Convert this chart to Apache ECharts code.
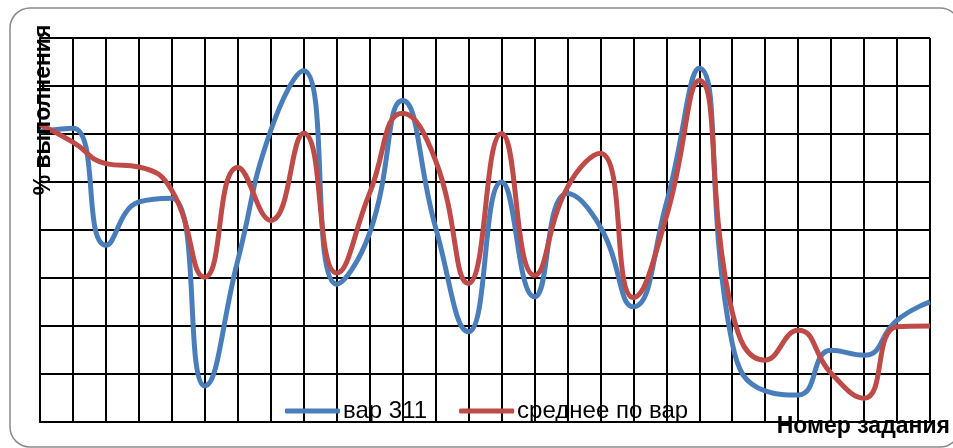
<!DOCTYPE html>
<html>
<head>
<meta charset="utf-8">
<title>% выполнения</title>
<script src="https://cdn.jsdelivr.net/npm/echarts@6/dist/echarts.min.js"></script>
<style>
  html, body { margin: 0; padding: 0; background: #fff; }
  #chart { width: 953px; height: 448px; }
</style>
</head>
<body>
<div id="chart"></div>
<script>
// Task numbers along the x axis
const tasks = ['1','2','3','4','5','6','7','8','9','10','11','12','13','14',
               '15','16','17','18','19','20','21','22','23','24','25','26','27','28'];

// Completion rate, %: variant 311
const var311 = [75.7, 76.5, 46.0, 57.3, 58.3, 9.4, 42.1, 75.9, 91.5, 35.9,
                49.2, 83.7, 50.7, 23.5, 62.5, 32.6, 59.5, 50.8, 30.0, 56.9,
                92.1, 20.5, 8.1, 7.0, 18.7, 17.4, 26.5, 31.3];

// Completion rate, %: average over all variants
const averageAll = [77.5, 72.9, 67.3, 66.4, 60.3, 37.7, 66.3, 52.5, 75.2, 38.8,
                    59.6, 80.4, 68.1, 36.1, 75.1, 38.2, 61.1, 70.0, 32.4, 53.4,
                    88.9, 28.6, 16.1, 23.9, 12.7, 6.2, 24.8, 25.0];

const seriesNames = ['вар 311', 'среднее по вар'];
const yName = '% выполнения';
const xName = 'Номер задания';

const chart = echarts.init(document.getElementById('chart'), null, { renderer: 'canvas' });

const gridLine = { show: true, lineStyle: { color: '#000', width: 2 } };

chart.setOption({
  animation: false,
  backgroundColor: '#fff',
  grid: { left: 40, right: 23, top: 38, bottom: 26, containLabel: false },
  legend: {
    left: 285,
    top: 399,
    padding: 0,
    itemGap: 32,
    itemWidth: 55,
    itemHeight: 5,
    icon: 'roundRect',
    textStyle: { fontFamily: 'Liberation Sans', fontSize: 24, color: '#000', padding: [0, 0, 0, -2] },
    data: seriesNames
  },
  xAxis: {
    type: 'category',
    data: tasks,
    boundaryGap: false,
    axisLine: { show: true, lineStyle: { color: '#000', width: 2 } },
    axisTick: { show: false },
    axisLabel: { show: false, interval: 0 },
    splitLine: Object.assign({ interval: 0 }, gridLine)
  },
  yAxis: {
    type: 'value',
    min: 0,
    max: 100,
    interval: 12.5,
    axisLine: { show: true, lineStyle: { color: '#000', width: 2 } },
    axisTick: { show: false },
    axisLabel: { show: false },
    splitLine: gridLine
  },
  series: [
    {
      name: seriesNames[0],
      type: 'line',
      data: var311,
      smooth: 0.5,
      showSymbol: false,
      lineStyle: { color: '#4A7EBB', width: 5 },
      itemStyle: { color: '#4A7EBB' },
      z: 3
    },
    {
      name: seriesNames[1],
      type: 'line',
      data: averageAll,
      smooth: 0.5,
      showSymbol: false,
      lineStyle: { color: '#BE4B48', width: 5 },
      itemStyle: { color: '#BE4B48' },
      z: 4
    }
  ],
  graphic: [
    {
      type: 'rect',
      z: 0,
      silent: true,
      shape: { x: 10, y: 8, width: 950, height: 439, r: 20 },
      style: { fill: 'none', stroke: '#8A8A8A', lineWidth: 1.5 }
    },
    {
      type: 'text',
      z: 100,
      x: 44,
      y: 110,
      rotation: Math.PI / 2,
      style: {
        text: yName,
        fontFamily: 'Liberation Sans',
        fontWeight: 'bold',
        fontSize: 23,
        fill: '#000',
        align: 'center',
        verticalAlign: 'middle'
      }
    },
    {
      type: 'text',
      z: 100,
      x: 950,
      y: 427,
      style: {
        text: xName,
        fontFamily: 'Liberation Sans',
        fontWeight: 'bold',
        fontSize: 23,
        fill: '#000',
        align: 'right',
        verticalAlign: 'middle'
      }
    }
  ]
});
</script>
</body>
</html>
